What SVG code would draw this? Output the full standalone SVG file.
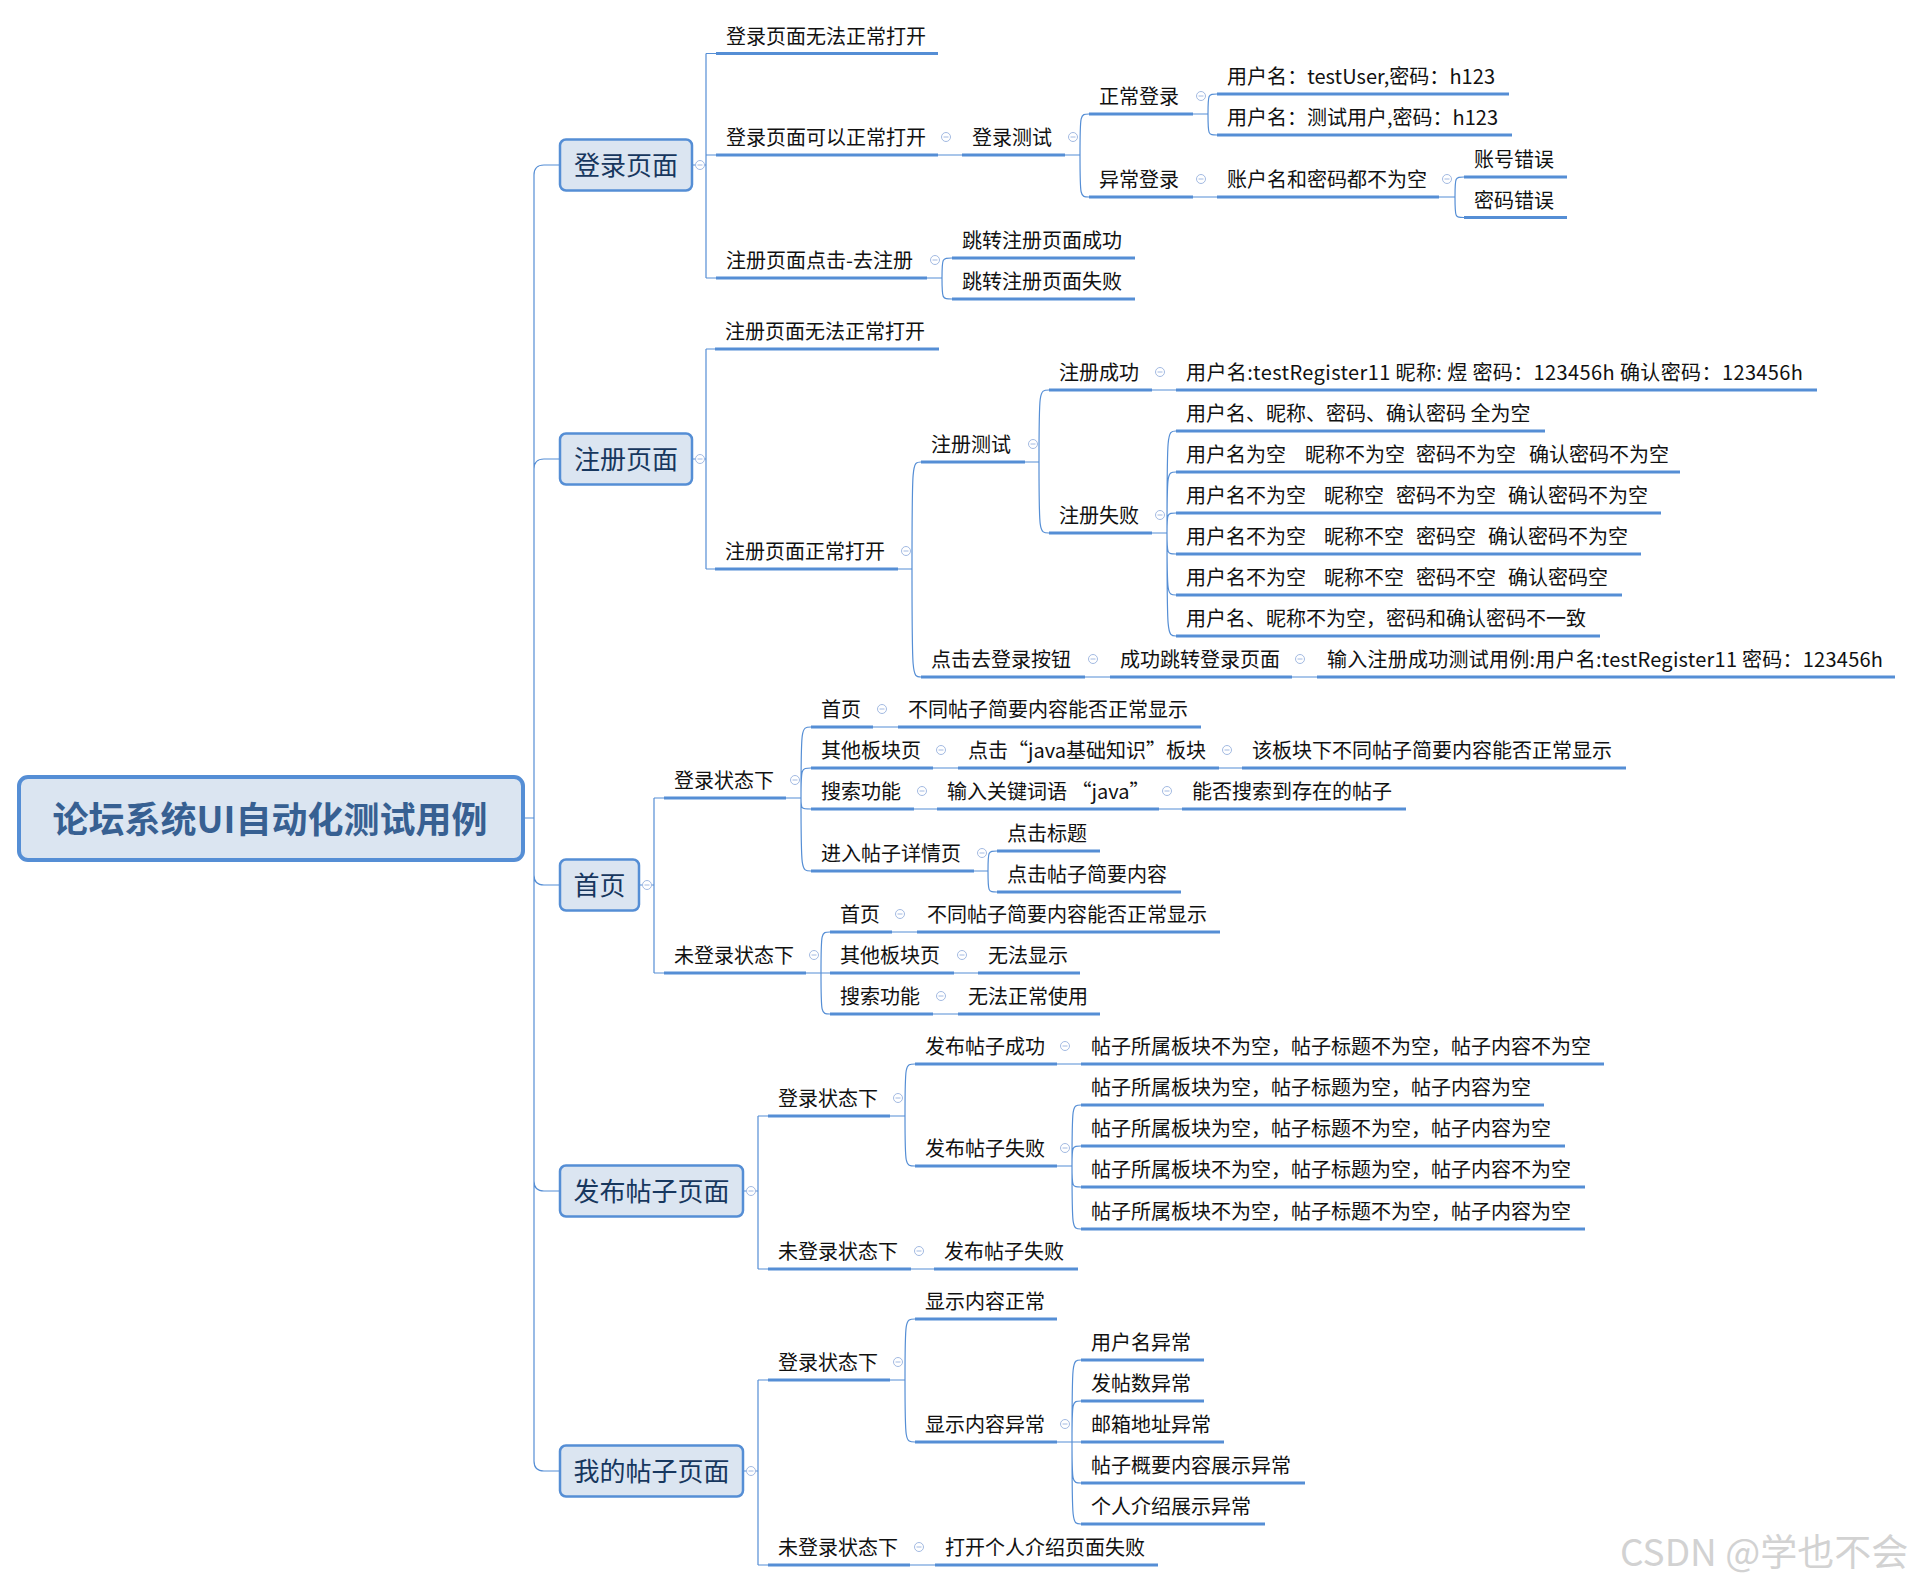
<svg xmlns="http://www.w3.org/2000/svg" xmlns:xlink="http://www.w3.org/1999/xlink" width="1913" height="1582" viewBox="0 0 1913 1582">
<style>
.ul{stroke:#558ED5;stroke-width:3;fill:none}
.c{fill:none;stroke:#558ED5;stroke-width:1.2}
.t{font-family:"Noto Sans CJK SC","Noto Sans",sans-serif;font-size:20px;fill:#111111;white-space:pre}
.b{fill:#DBE5F1;stroke:#558ED5;stroke-width:2.5}
.bt{font-family:"Noto Sans CJK SC","Noto Sans",sans-serif;font-size:26px;fill:#17375E;text-anchor:middle}
.rt{font-family:"Noto Sans CJK SC","Noto Sans",sans-serif;font-size:36px;font-weight:bold;fill:#376092;text-anchor:middle}
.m circle{fill:#ffffff;stroke:#A3BAE2;stroke-width:1}
.m path{stroke:#A3BAE2;stroke-width:1}
.wm{font-family:"Noto Sans CJK SC","Noto Sans",sans-serif;font-size:37px;fill:#D2D2D2}
</style>
<defs>
<g id="m" class="m"><circle cx="0" cy="0" r="4.5"/><path d="M-2.5,0H2.5"/></g>
</defs>
<rect width="1913" height="1582" fill="#ffffff"/>

<g id="connectors">
<path class="c" d="M525,818H534V175Q534,165 544,165H559 M534,818V469Q534,459 544,459H559 M534,818V875Q534,885 544,885H559 M534,818V1181Q534,1191 544,1191H559 M534,818V1461Q534,1471 544,1471H559"/>
<path class="c" d="M693,165H706 M706,53.5V278 M706,53.5H716 M706,155H716 M706,278H716"/>
<path class="c" d="M693,459H706 M706,349V569 M706,349H715 M706,569H715"/>
<path class="c" d="M640,885H654 M654,798V973 M654,798H664 M654,973H664"/>
<path class="c" d="M744,1191H758 M758,1116V1269 M758,1116H768 M758,1269H768"/>
<path class="c" d="M744,1471H758 M758,1380V1565 M758,1380H768 M758,1565H768"/>
<path class="c" d="M938,155H962 M1193,197H1217 M1152,390H1176 M1085,677H1110 M1292,677H1317 M873,727H898 M933,768H958 M1219,768H1242 M914,809H937 M1159,809H1182 M892,932H917 M954,973H978 M933,1014H958 M1057,1064H1081 M911,1269H934 M910,1565H935"/>
<path class="c" d="M1065,155H1080 M1080,155C1080,114 1080,114 1089,114 M1080,155C1080,197 1080,197 1089,197"/>
<path class="c" d="M1193,114H1208 M1208,114C1208,94 1208,94 1217,94 M1208,114C1208,135 1208,135 1217,135"/>
<path class="c" d="M1439,197H1455 M1455,197C1455,177 1455,177 1464,177 M1455,197C1455,217.5 1455,217.5 1464,217.5"/>
<path class="c" d="M927,278H942 M942,278C942,258 942,258 952,258 M942,278C942,299 942,299 952,299"/>
<path class="c" d="M898,569H912 M912,569C912,462 912,462 921,462 M912,569C912,677 912,677 921,677"/>
<path class="c" d="M1025,462H1039 M1039,462C1039,390 1039,390 1049,390 M1039,462C1039,533 1039,533 1049,533"/>
<path class="c" d="M1152,533H1167 M1167,533C1167,431 1167,431 1176,431 M1167,533C1167,472 1167,472 1176,472 M1167,533C1167,513 1167,513 1176,513 M1167,533C1167,554 1167,554 1176,554 M1167,533C1167,595 1167,595 1176,595 M1167,533C1167,636 1167,636 1176,636"/>
<path class="c" d="M786,798H801 M801,798C801,727 801,727 811,727 M801,798C801,768 801,768 811,768 M801,798C801,809 801,809 811,809 M801,798C801,871 801,871 811,871"/>
<path class="c" d="M974,871H988 M988,871C988,851 988,851 997,851 M988,871C988,892 988,892 997,892"/>
<path class="c" d="M806,973H830 M821,973C821,932 821,932 830,932 M821,973C821,1014 821,1014 830,1014"/>
<path class="c" d="M890,1116H905 M905,1116C905,1064 905,1064 915,1064 M905,1116C905,1166 905,1166 915,1166"/>
<path class="c" d="M1057,1166H1072 M1072,1166C1072,1105 1072,1105 1081,1105 M1072,1166C1072,1146 1072,1146 1081,1146 M1072,1166C1072,1187 1072,1187 1081,1187 M1072,1166C1072,1229 1072,1229 1081,1229"/>
<path class="c" d="M890,1380H905 M905,1380C905,1319 905,1319 915,1319 M905,1380C905,1442 905,1442 915,1442"/>
<path class="c" d="M1057,1442H1081 M1072,1442C1072,1360 1072,1360 1081,1360 M1072,1442C1072,1401 1072,1401 1081,1401 M1072,1442C1072,1483 1072,1483 1081,1483 M1072,1442C1072,1524 1072,1524 1081,1524"/>
</g>

<g id="n-root"><rect class="b" x="19" y="777" width="504" height="83" rx="9" style="stroke-width:4"/><text class="rt" x="270" y="833">论坛系统UI自动化测试用例</text></g>

<!-- 登录页面 -->
<g id="n-login"><rect class="b" x="560" y="139.5" width="132" height="51" rx="6"/><text class="bt" x="626" y="175">登录页面</text><use href="#m" x="700" y="165"/></g>
<g id="n-l1"><line class="ul" x1="716" y1="53.5" x2="938" y2="53.5"/><text class="t" x="726" y="43.5">登录页面无法正常打开</text></g>
<g id="n-l2"><line class="ul" x1="716" y1="155" x2="938" y2="155"/><text class="t" x="726" y="145">登录页面可以正常打开</text><use href="#m" x="946" y="137"/></g>
<g id="n-l3"><line class="ul" x1="962" y1="155" x2="1065" y2="155"/><text class="t" x="972" y="145">登录测试</text><use href="#m" x="1073" y="137"/></g>
<g id="n-l4"><line class="ul" x1="1089" y1="114" x2="1193" y2="114"/><text class="t" x="1099" y="104">正常登录</text><use href="#m" x="1201" y="96"/></g>
<g id="n-l5"><line class="ul" x1="1217" y1="94" x2="1509" y2="94"/><text class="t" x="1227" y="84" textLength="268">用户名：testUser,密码：h123</text></g>
<g id="n-l6"><line class="ul" x1="1217" y1="135" x2="1512" y2="135"/><text class="t" x="1227" y="125" textLength="271">用户名：测试用户,密码：h123</text></g>
<g id="n-l7"><line class="ul" x1="1089" y1="197" x2="1193" y2="197"/><text class="t" x="1099" y="187">异常登录</text><use href="#m" x="1201" y="179"/></g>
<g id="n-l8"><line class="ul" x1="1217" y1="197" x2="1439" y2="197"/><text class="t" x="1227" y="187">账户名和密码都不为空</text><use href="#m" x="1447" y="179"/></g>
<g id="n-l9"><line class="ul" x1="1464" y1="177" x2="1567" y2="177"/><text class="t" x="1474" y="167">账号错误</text></g>
<g id="n-l10"><line class="ul" x1="1464" y1="217.5" x2="1567" y2="217.5"/><text class="t" x="1474" y="207.5">密码错误</text></g>
<g id="n-l11"><line class="ul" x1="716" y1="278" x2="927" y2="278"/><text class="t" x="726" y="268">注册页面点击-去注册</text><use href="#m" x="935" y="260"/></g>
<g id="n-l12"><line class="ul" x1="952" y1="258" x2="1135" y2="258"/><text class="t" x="962" y="248">跳转注册页面成功</text></g>
<g id="n-l13"><line class="ul" x1="952" y1="299" x2="1135" y2="299"/><text class="t" x="962" y="289">跳转注册页面失败</text></g>

<!-- 注册页面 -->
<g id="n-reg"><rect class="b" x="560" y="433.5" width="132" height="51" rx="6"/><text class="bt" x="626" y="469">注册页面</text><use href="#m" x="700" y="459"/></g>
<g id="n-r1"><line class="ul" x1="715" y1="349" x2="939" y2="349"/><text class="t" x="725" y="339">注册页面无法正常打开</text></g>
<g id="n-r2"><line class="ul" x1="715" y1="569" x2="898" y2="569"/><text class="t" x="725" y="559">注册页面正常打开</text><use href="#m" x="906" y="551"/></g>
<g id="n-r3"><line class="ul" x1="921" y1="462" x2="1025" y2="462"/><text class="t" x="931" y="452">注册测试</text><use href="#m" x="1033" y="444"/></g>
<g id="n-r4"><line class="ul" x1="1049" y1="390" x2="1152" y2="390"/><text class="t" x="1059" y="380">注册成功</text><use href="#m" x="1160" y="372"/></g>
<g id="n-r5"><line class="ul" x1="1176" y1="390" x2="1817" y2="390"/><text class="t" x="1186" y="380" textLength="617">用户名:testRegister11 昵称: 煜 密码：123456h 确认密码：123456h</text></g>
<g id="n-r6"><line class="ul" x1="1049" y1="533" x2="1152" y2="533"/><text class="t" x="1059" y="523">注册失败</text><use href="#m" x="1160" y="515"/></g>
<g id="n-r7"><line class="ul" x1="1176" y1="431" x2="1545" y2="431"/><text class="t" x="1186" y="421">用户名、昵称、密码、确认密码 全为空</text></g>
<g id="n-r8"><line class="ul" x1="1176" y1="472" x2="1680" y2="472"/><text class="t" y="462"><tspan x="1186">用户名为空  </tspan><tspan x="1305">昵称不为空  </tspan><tspan x="1416">密码不为空  </tspan><tspan x="1529">确认密码不为空</tspan></text></g>
<g id="n-r9"><line class="ul" x1="1176" y1="513" x2="1661" y2="513"/><text class="t" y="503"><tspan x="1186">用户名不为空  </tspan><tspan x="1324">昵称空  </tspan><tspan x="1396">密码不为空  </tspan><tspan x="1508">确认密码不为空</tspan></text></g>
<g id="n-r10"><line class="ul" x1="1176" y1="554" x2="1641" y2="554"/><text class="t" y="544"><tspan x="1186">用户名不为空  </tspan><tspan x="1324">昵称不空  </tspan><tspan x="1416">密码空  </tspan><tspan x="1488">确认密码不为空</tspan></text></g>
<g id="n-r11"><line class="ul" x1="1176" y1="595" x2="1622" y2="595"/><text class="t" y="585"><tspan x="1186">用户名不为空  </tspan><tspan x="1324">昵称不空  </tspan><tspan x="1416">密码不空  </tspan><tspan x="1508">确认密码空</tspan></text></g>
<g id="n-r12"><line class="ul" x1="1176" y1="636" x2="1600" y2="636"/><text class="t" x="1186" y="626">用户名、昵称不为空，密码和确认密码不一致</text></g>
<g id="n-r13"><line class="ul" x1="921" y1="677" x2="1085" y2="677"/><text class="t" x="931" y="667">点击去登录按钮</text><use href="#m" x="1093" y="659"/></g>
<g id="n-r14"><line class="ul" x1="1110" y1="677" x2="1292" y2="677"/><text class="t" x="1120" y="667">成功跳转登录页面</text><use href="#m" x="1300" y="659"/></g>
<g id="n-r15"><line class="ul" x1="1317" y1="677" x2="1895" y2="677"/><text class="t" x="1327" y="667" textLength="556">输入注册成功测试用例:用户名:testRegister11 密码：123456h</text></g>

<!-- 首页 -->
<g id="n-home"><rect class="b" x="560" y="859.5" width="79" height="51" rx="6"/><text class="bt" x="599.5" y="895">首页</text><use href="#m" x="647" y="885"/></g>
<g id="n-h1"><line class="ul" x1="664" y1="798" x2="786" y2="798"/><text class="t" x="674" y="788">登录状态下</text><use href="#m" x="795" y="780"/></g>
<g id="n-h2"><line class="ul" x1="811" y1="727" x2="873" y2="727"/><text class="t" x="821" y="717">首页</text><use href="#m" x="882" y="709"/></g>
<g id="n-h3"><line class="ul" x1="898" y1="727" x2="1201" y2="727"/><text class="t" x="908" y="717">不同帖子简要内容能否正常显示</text></g>
<g id="n-h4"><line class="ul" x1="811" y1="768" x2="933" y2="768"/><text class="t" x="821" y="758">其他板块页</text><use href="#m" x="941" y="750"/></g>
<g id="n-h5"><line class="ul" x1="958" y1="768" x2="1219" y2="768"/><text class="t" x="968" y="758">点击“java基础知识”板块</text><use href="#m" x="1227" y="750"/></g>
<g id="n-h6"><line class="ul" x1="1242" y1="768" x2="1626" y2="768"/><text class="t" x="1252" y="758">该板块下不同帖子简要内容能否正常显示</text></g>
<g id="n-h7"><line class="ul" x1="811" y1="809" x2="914" y2="809"/><text class="t" x="821" y="799">搜索功能</text><use href="#m" x="922" y="791"/></g>
<g id="n-h8"><line class="ul" x1="937" y1="809" x2="1159" y2="809"/><text class="t" x="947" y="799">输入关键词语 “java”</text><use href="#m" x="1167" y="791"/></g>
<g id="n-h9"><line class="ul" x1="1182" y1="809" x2="1406" y2="809"/><text class="t" x="1192" y="799">能否搜索到存在的帖子</text></g>
<g id="n-h10"><line class="ul" x1="811" y1="871" x2="974" y2="871"/><text class="t" x="821" y="861">进入帖子详情页</text><use href="#m" x="982" y="853"/></g>
<g id="n-h11"><line class="ul" x1="997" y1="851" x2="1100" y2="851"/><text class="t" x="1007" y="841">点击标题</text></g>
<g id="n-h12"><line class="ul" x1="997" y1="892" x2="1181" y2="892"/><text class="t" x="1007" y="882">点击帖子简要内容</text></g>
<g id="n-h13"><line class="ul" x1="664" y1="973" x2="806" y2="973"/><text class="t" x="674" y="963">未登录状态下</text><use href="#m" x="814" y="955"/></g>
<g id="n-h14"><line class="ul" x1="830" y1="932" x2="892" y2="932"/><text class="t" x="840" y="922">首页</text><use href="#m" x="900" y="914"/></g>
<g id="n-h15"><line class="ul" x1="917" y1="932" x2="1220" y2="932"/><text class="t" x="927" y="922">不同帖子简要内容能否正常显示</text></g>
<g id="n-h16"><line class="ul" x1="830" y1="973" x2="954" y2="973"/><text class="t" x="840" y="963">其他板块页</text><use href="#m" x="962" y="955"/></g>
<g id="n-h17"><line class="ul" x1="978" y1="973" x2="1080" y2="973"/><text class="t" x="988" y="963">无法显示</text></g>
<g id="n-h18"><line class="ul" x1="830" y1="1014" x2="933" y2="1014"/><text class="t" x="840" y="1004">搜索功能</text><use href="#m" x="941" y="996"/></g>
<g id="n-h19"><line class="ul" x1="958" y1="1014" x2="1100" y2="1014"/><text class="t" x="968" y="1004">无法正常使用</text></g>

<!-- 发布帖子页面 -->
<g id="n-post"><rect class="b" x="560" y="1165.5" width="183" height="51" rx="6"/><text class="bt" x="651.5" y="1201">发布帖子页面</text><use href="#m" x="751" y="1191"/></g>
<g id="n-p1"><line class="ul" x1="768" y1="1116" x2="890" y2="1116"/><text class="t" x="778" y="1106">登录状态下</text><use href="#m" x="898" y="1098"/></g>
<g id="n-p2"><line class="ul" x1="915" y1="1064" x2="1057" y2="1064"/><text class="t" x="925" y="1054">发布帖子成功</text><use href="#m" x="1065" y="1046"/></g>
<g id="n-p3"><line class="ul" x1="1081" y1="1064" x2="1604" y2="1064"/><text class="t" x="1091" y="1054">帖子所属板块不为空，帖子标题不为空，帖子内容不为空</text></g>
<g id="n-p4"><line class="ul" x1="915" y1="1166" x2="1057" y2="1166"/><text class="t" x="925" y="1156">发布帖子失败</text><use href="#m" x="1065" y="1148"/></g>
<g id="n-p5"><line class="ul" x1="1081" y1="1105" x2="1544" y2="1105"/><text class="t" x="1091" y="1095">帖子所属板块为空，帖子标题为空，帖子内容为空</text></g>
<g id="n-p6"><line class="ul" x1="1081" y1="1146" x2="1565" y2="1146"/><text class="t" x="1091" y="1136">帖子所属板块为空，帖子标题不为空，帖子内容为空</text></g>
<g id="n-p7"><line class="ul" x1="1081" y1="1187" x2="1585" y2="1187"/><text class="t" x="1091" y="1177">帖子所属板块不为空，帖子标题为空，帖子内容不为空</text></g>
<g id="n-p8"><line class="ul" x1="1081" y1="1229" x2="1585" y2="1229"/><text class="t" x="1091" y="1219">帖子所属板块不为空，帖子标题不为空，帖子内容为空</text></g>
<g id="n-p9"><line class="ul" x1="768" y1="1269" x2="911" y2="1269"/><text class="t" x="778" y="1259">未登录状态下</text><use href="#m" x="919" y="1251"/></g>
<g id="n-p10"><line class="ul" x1="934" y1="1269" x2="1078" y2="1269"/><text class="t" x="944" y="1259">发布帖子失败</text></g>

<!-- 我的帖子页面 -->
<g id="n-my"><rect class="b" x="560" y="1445.5" width="183" height="51" rx="6"/><text class="bt" x="651.5" y="1481">我的帖子页面</text><use href="#m" x="751" y="1471"/></g>
<g id="n-y1"><line class="ul" x1="768" y1="1380" x2="890" y2="1380"/><text class="t" x="778" y="1370">登录状态下</text><use href="#m" x="898" y="1362"/></g>
<g id="n-y2"><line class="ul" x1="915" y1="1319" x2="1057" y2="1319"/><text class="t" x="925" y="1309">显示内容正常</text></g>
<g id="n-y3"><line class="ul" x1="915" y1="1442" x2="1057" y2="1442"/><text class="t" x="925" y="1432">显示内容异常</text><use href="#m" x="1065" y="1424"/></g>
<g id="n-y4"><line class="ul" x1="1081" y1="1360" x2="1204" y2="1360"/><text class="t" x="1091" y="1350">用户名异常</text></g>
<g id="n-y5"><line class="ul" x1="1081" y1="1401" x2="1204" y2="1401"/><text class="t" x="1091" y="1391">发帖数异常</text></g>
<g id="n-y6"><line class="ul" x1="1081" y1="1442" x2="1224" y2="1442"/><text class="t" x="1091" y="1432">邮箱地址异常</text></g>
<g id="n-y7"><line class="ul" x1="1081" y1="1483" x2="1305" y2="1483"/><text class="t" x="1091" y="1473">帖子概要内容展示异常</text></g>
<g id="n-y8"><line class="ul" x1="1081" y1="1524" x2="1265" y2="1524"/><text class="t" x="1091" y="1514">个人介绍展示异常</text></g>
<g id="n-y9"><line class="ul" x1="768" y1="1565" x2="910" y2="1565"/><text class="t" x="778" y="1555">未登录状态下</text><use href="#m" x="919" y="1547"/></g>
<g id="n-y10"><line class="ul" x1="935" y1="1565" x2="1158" y2="1565"/><text class="t" x="945" y="1555">打开个人介绍页面失败</text></g>

<text class="wm" x="1620" y="1566">CSDN @学也不会</text>
</svg>
